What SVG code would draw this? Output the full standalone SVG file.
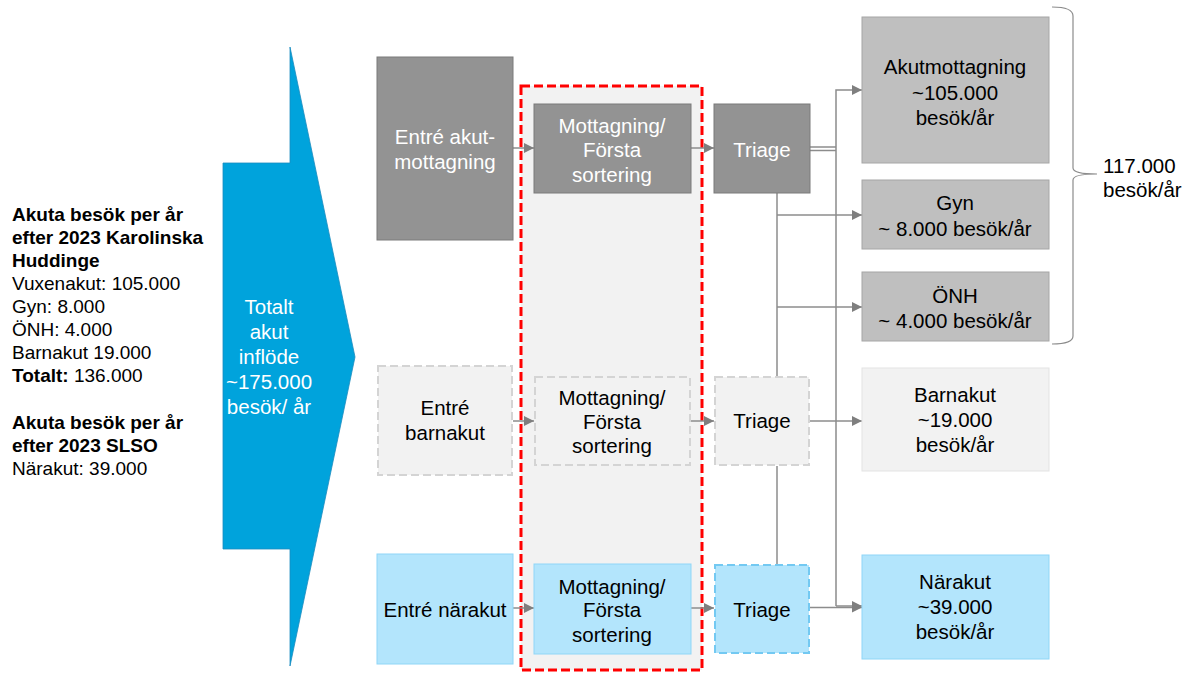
<svg xmlns="http://www.w3.org/2000/svg" width="1191" height="673" viewBox="0 0 1191 673">
<defs>
<marker id="ah" viewBox="0 0 10 10" refX="10" refY="5" markerWidth="10" markerHeight="10" markerUnits="userSpaceOnUse" orient="auto"><path d="M0,0 L10,5 L0,10 z" fill="#7f7f7f"/></marker>
<style>
text{font-family:"Liberation Sans",Arial,sans-serif;}
.bx{font-size:20.5px;text-anchor:middle;}
.w{fill:#ffffff;}
.k{fill:#000000;}
.dg{fill:#939393;stroke:#7a7a7a;stroke-width:1;}
.lg{fill:#bfbfbf;stroke:#a6a6a6;stroke-width:1;}
.pg{fill:#f2f2f2;stroke:#e3e3e3;stroke-width:1;}
.pgd{fill:#f2f2f2;stroke:#d4d4d4;stroke-width:2;stroke-dasharray:8 4;}
.lb{fill:#b3e5fc;stroke:#8fd6f7;stroke-width:1;}
.lbd{fill:#b3e5fc;stroke:#73c9f2;stroke-width:2;stroke-dasharray:8 4;}
.c{fill:none;stroke:#8c8c8c;stroke-width:1.5;}
.ca{fill:none;stroke:#8c8c8c;stroke-width:1.5;marker-end:url(#ah);}
.lt{font-size:19px;fill:#000;}
.b{font-weight:bold;}
</style>
</defs>
<rect width="1191" height="673" fill="#ffffff"/>

<g id="legend">
<text class="lt" x="12" y="221"><tspan class="b">Akuta besök per år</tspan></text>
<text class="lt" x="12" y="244"><tspan class="b">efter 2023 Karolinska</tspan></text>
<text class="lt" x="12" y="267"><tspan class="b">Huddinge</tspan></text>
<text class="lt" x="12" y="290">Vuxenakut: 105.000</text>
<text class="lt" x="12" y="313">Gyn: 8.000</text>
<text class="lt" x="12" y="336">ÖNH: 4.000</text>
<text class="lt" x="12" y="359">Barnakut 19.000</text>
<text class="lt" x="12" y="382"><tspan class="b">Totalt:</tspan> 136.000</text>
<text class="lt" x="12" y="429"><tspan class="b">Akuta besök per år</tspan></text>
<text class="lt" x="12" y="452"><tspan class="b">efter 2023 SLSO</tspan></text>
<text class="lt" x="12" y="475">Närakut: 39.000</text>
</g>

<g id="inflow">
<polygon points="223,163 290,163 290,47 355,357 290,666 290,549 223,549" fill="#00a3dc" stroke="#1a8cbf" stroke-width="0.8"/>
<text class="bx w" x="269" y="314">Totalt</text>
<text class="bx w" x="269" y="339">akut</text>
<text class="bx w" x="269" y="364">inflöde</text>
<text class="bx w" x="269" y="389">~175.000</text>
<text class="bx w" x="269" y="414">besök/ år</text>
</g>

<g id="zone">
<rect x="521" y="86" width="181" height="584" fill="#f2f2f2" stroke="#ff0000" stroke-width="3" stroke-dasharray="9 4"/>
</g>

<g id="connectors">
<line class="ca" x1="513" y1="148" x2="534" y2="148"/>
<line class="ca" x1="691" y1="148" x2="714" y2="148"/>
<line class="ca" x1="513" y1="421" x2="534" y2="421"/>
<line class="ca" x1="691" y1="421" x2="714" y2="421"/>
<line class="ca" x1="513" y1="608" x2="534" y2="608"/>
<line class="ca" x1="691" y1="608" x2="714" y2="608"/>
<line class="c" x1="810" y1="147" x2="836" y2="147"/>
<line class="c" x1="810" y1="150.5" x2="836" y2="150.5"/>
<polyline class="ca" points="836,606 836,90 862,90"/>
<line class="ca" x1="836" y1="606" x2="862" y2="606"/>
<line class="c" x1="777" y1="193" x2="777" y2="376"/>
<line class="ca" x1="777" y1="215" x2="862" y2="215"/>
<line class="ca" x1="777" y1="307" x2="862" y2="307"/>
<line class="c" x1="777" y1="466" x2="777" y2="564"/>
<line class="ca" x1="810" y1="421" x2="862" y2="421"/>
<line class="ca" x1="810" y1="607.5" x2="862" y2="607.5"/>
</g>

<g id="entre-akut">
<rect class="dg" x="377" y="57" width="136" height="183"/>
<text class="bx w" x="445" y="144">Entré akut-</text>
<text class="bx w" x="445" y="169">mottagning</text>
</g>
<g id="mott-akut">
<rect class="dg" x="534" y="104" width="157" height="89"/>
<text class="bx w" x="612" y="133">Mottagning/</text>
<text class="bx w" x="612" y="157">Första</text>
<text class="bx w" x="612" y="182">sortering</text>
</g>
<g id="triage-akut">
<rect class="dg" x="714" y="104" width="96" height="89"/>
<text class="bx w" x="762" y="157">Triage</text>
</g>

<g id="entre-barn">
<rect class="pgd" x="378" y="366" width="134" height="109"/>
<text class="bx k" x="445" y="415">Entré</text>
<text class="bx k" x="445" y="440">barnakut</text>
</g>
<g id="mott-barn">
<rect class="pgd" x="535" y="377" width="155" height="88"/>
<text class="bx k" x="612" y="405">Mottagning/</text>
<text class="bx k" x="612" y="429">Första</text>
<text class="bx k" x="612" y="453">sortering</text>
</g>
<g id="triage-barn">
<rect class="pgd" x="715" y="377" width="94" height="88"/>
<text class="bx k" x="762" y="428">Triage</text>
</g>

<g id="entre-nar">
<rect class="lb" x="377" y="554" width="136" height="110"/>
<text class="bx k" x="445" y="617">Entré närakut</text>
</g>
<g id="mott-nar">
<rect class="lb" x="534" y="564" width="157" height="90"/>
<text class="bx k" x="612" y="594">Mottagning/</text>
<text class="bx k" x="612" y="617">Första</text>
<text class="bx k" x="612" y="642">sortering</text>
</g>
<g id="triage-nar">
<rect class="lbd" x="715" y="565" width="94" height="88"/>
<text class="bx k" x="762" y="617">Triage</text>
</g>

<g id="akutmottagning">
<rect class="lg" x="862" y="17" width="187" height="146"/>
<text class="bx k" x="955" y="74">Akutmottagning</text>
<text class="bx k" x="955" y="100">~105.000</text>
<text class="bx k" x="955" y="125">besök/år</text>
</g>
<g id="gyn">
<rect class="lg" x="862" y="180" width="187" height="69"/>
<text class="bx k" x="955" y="210">Gyn</text>
<text class="bx k" x="955" y="236">~ 8.000 besök/år</text>
</g>
<g id="onh">
<rect class="lg" x="862" y="272" width="187" height="69"/>
<text class="bx k" x="955" y="303">ÖNH</text>
<text class="bx k" x="955" y="328">~ 4.000 besök/år</text>
</g>
<g id="barnakut">
<rect class="pg" x="862" y="368" width="187" height="103"/>
<text class="bx k" x="955" y="402">Barnakut</text>
<text class="bx k" x="955" y="427">~19.000</text>
<text class="bx k" x="955" y="452">besök/år</text>
</g>
<g id="narakut">
<rect class="lb" x="862" y="555" width="187" height="104"/>
<text class="bx k" x="955" y="589">Närakut</text>
<text class="bx k" x="955" y="614">~39.000</text>
<text class="bx k" x="955" y="639">besök/år</text>
</g>

<g id="brace">
<path d="M1052,7 Q1073,7 1073,16 L1073,168 Q1073,174 1097,174 Q1073,174 1073,180 L1073,336 Q1073,344 1052,344" fill="none" stroke="#8c8c8c" stroke-width="1.2"/>
<text class="bx k" x="1103" y="173" text-anchor="start" style="text-anchor:start">117.000</text>
<text class="bx k" x="1103" y="197" text-anchor="start" style="text-anchor:start">besök/år</text>
</g>
</svg>
